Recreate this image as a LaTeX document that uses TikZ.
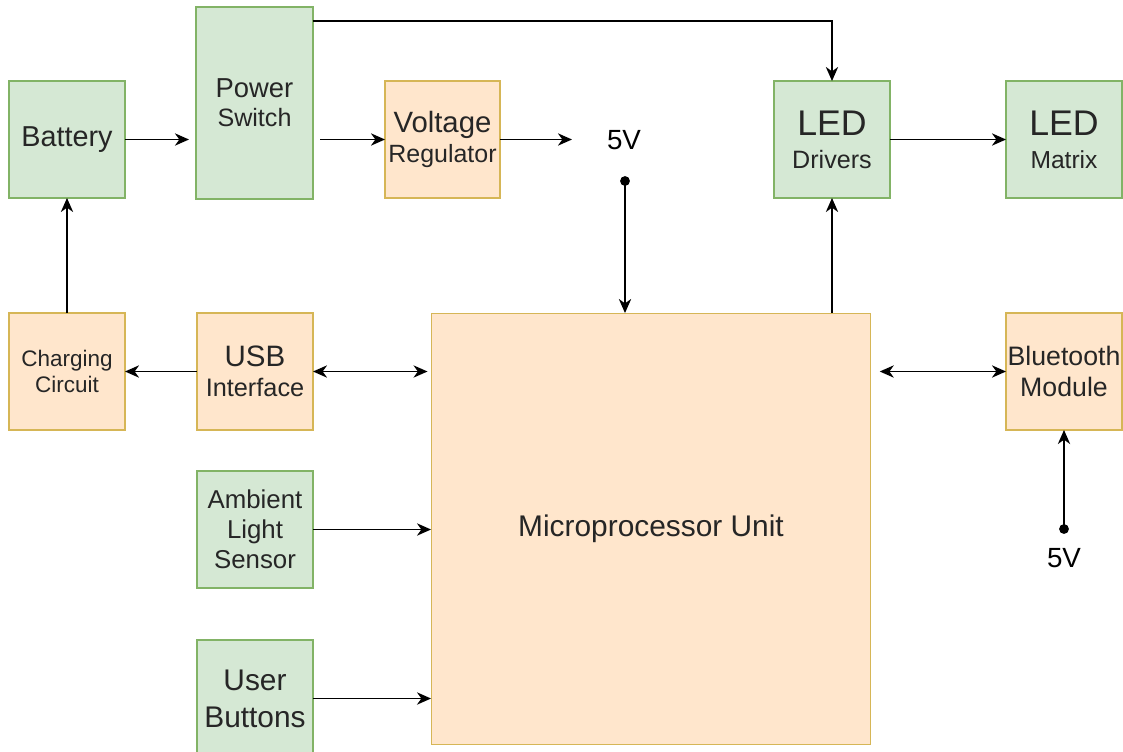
\documentclass[tikz,border=0pt]{standalone}
\usepackage{fontspec}
\setmainfont{Liberation Sans}
\usepackage{tikz}
\usetikzlibrary{arrows.meta}
\definecolor{gfill}{HTML}{D5E8D4}
\definecolor{gline}{HTML}{82B366}
\definecolor{ofill}{HTML}{FFE6CC}
\definecolor{oline}{HTML}{D6B656}
\newcommand{\fsz}[2]{\fontsize{#1}{#2}\selectfont}

\begin{document}
\begin{tikzpicture}[x=0.02cm, y=-0.02cm, >={Stealth[length=8pt,width=7pt,inset=2.5pt]}, line width=0.9pt,
  box/.style={draw, line width=0.6pt, minimum width=2.32cm, minimum height=2.34cm, align=center, inner sep=0pt, outer sep=0pt, text=black!85},
  gbox/.style={box, draw=gline, fill=gfill},
  obox/.style={box, draw=oline, fill=ofill}]
\useasboundingbox (0,0) rectangle (1123,751);
% top row
\node[gbox, font=\fsz{16.4}{19}] (bat) at (67,139.5) {Battery};
\node[gbox, minimum width=2.34cm, minimum height=3.84cm, font=\fsz{14.3}{16.5}] (psw) at (254.5,103) {\fsz{15.6}{16.5}Power\\Switch};
\node[obox, minimum width=2.3cm, font=\fsz{14.2}{17.5}] (vreg) at (442.5,139.5) {\fsz{16.7}{17.5}Voltage\\Regulator};
\node[font=\fsz{15.8}{18}] (vtop) at (624,140) {5V};
\coordinate (vout) at (572,139.5);
\coordinate (dtop) at (625,181);
\node[gbox, font=\fsz{14.3}{18.7}] (drv) at (832,139.5) {\fsz{20.3}{18.7}LED\\Drivers};
\node[gbox, font=\fsz{14}{18.7}] (mtx) at (1064,139.5) {\fsz{20.3}{18.7}LED\\Matrix};
% middle and bottom
\node[obox, font=\fsz{12.8}{15}] (chg) at (67,371.5) {Charging\\Circuit};
\node[obox, font=\fsz{14.4}{17}] (usb) at (255,371.5) {\fsz{16.8}{17}USB\\Interface};
\node[obox, minimum width=8.8cm, minimum height=8.64cm, font=\fsz{17}{20}] (mcu) at (651,529) {Microprocessor Unit};
\node[obox, font=\fsz{15.2}{18}] (blt) at (1064,371.5) {Bluetooth\\Module};
\node[gbox, font=\fsz{14.7}{17}] (amb) at (255,529.5) {Ambient\\Light\\Sensor};
\node[gbox, font=\fsz{17}{21}] (btn) at (255,698.5) {User\\Buttons};
\coordinate (dbt) at (1064,529);
\node[font=\fsz{15.8}{18}] (vbt) at (1064,558) {5V};
\fill (dtop) circle (2.8pt) (dbt) circle (2.8pt);
% connectors
\draw[->, shorten >=4pt] (bat.east) -- (bat.east -| psw.west);
\draw[->, shorten <=4pt] (psw.east |- vreg.west) -- (vreg.west);
\draw[->] (vreg.east) -- (vout);
\draw[->] (psw.north east) ++(0,14) -| (drv.north);
\draw[->] (drv) -- (mtx);
\draw[->] (dtop) -- (dtop |- mcu.north);
\draw[->] (mcu.north -| drv) -- (drv.south);
\draw[->] (chg) -- (bat);
\draw[->] (usb) -- (chg);
\draw[<->, shorten >=2pt] (usb.east) -- (usb.east -| mcu.west);
\draw[->] (amb) -- (amb -| mcu.west);
\draw[->] (btn) -- (btn -| mcu.west);
\draw[<->, shorten <=5pt] (mcu.east |- blt) -- (blt);
\draw[->] (dbt) -- (blt);
\end{tikzpicture}
\end{document}
